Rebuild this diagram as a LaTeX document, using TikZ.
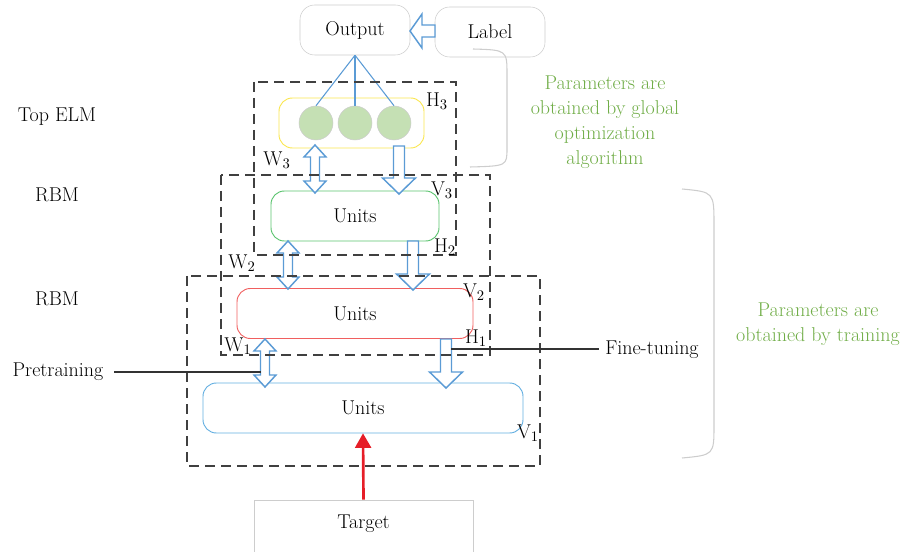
\documentclass[tikz,border=0pt]{standalone}
\usetikzlibrary{arrows, calc}
\usepackage{amsmath}
\usepackage{xcolor}

\definecolor{boxgray}{RGB}{205,205,205}
\definecolor{arrowblue}{RGB}{91,155,213}
\definecolor{elmyellow}{RGB}{250,230,80}
\definecolor{rbmgreen}{RGB}{90,195,110}
\definecolor{rbmred}{RGB}{240,95,95}
\definecolor{unitblue}{RGB}{100,175,225}
\definecolor{cellgreen}{RGB}{197,224,180}
\definecolor{notegreen}{RGB}{112,173,71}
\definecolor{targetred}{RGB}{230,30,40}

\tikzset{
	every node/.style={font=\fontsize{15}{18}\selectfont},
	rbox/.style={draw=boxgray, rounded corners=11pt, minimum width=82.5pt, minimum height=37.5pt},
	layer/.style={rounded corners=10pt, minimum height=37.5pt, line width=0.7pt},
	cell/.style={circle, fill=cellgreen, draw=boxgray, minimum size=25.5pt, inner sep=0pt},
	hollow/.style={draw=arrowblue, fill=white, line width=1.1pt, line join=miter},
	dbox/.style={draw=black!75, line width=1.5pt, dash pattern=on 7.5pt off 4.5pt},
	note/.style={text=notegreen, align=center, font=\fontsize{15}{18.75}\selectfont},
	brace/.style={draw=boxgray, line width=0.8pt},
}

% hollow arrows: x, y of top, y of tip
\newcommand{\hdown}[3]{%
	\draw[hollow] (#1-5.5,#2) -- (#1+5.5,#2) -- (#1+5.5,#3-16) -- (#1+16.5,#3-16)
		-- (#1,#3) -- (#1-16.5,#3-16) -- (#1-5.5,#3-16) -- cycle;}
\newcommand{\hboth}[3]{%
	\draw[hollow] (#1,#2) -- (#1+11,#2+12) -- (#1+4.5,#2+12) -- (#1+4.5,#3-12)
		-- (#1+11,#3-12) -- (#1,#3) -- (#1-11,#3-12) -- (#1-4.5,#3-12)
		-- (#1-4.5,#2+12) -- (#1-11,#2+12) -- cycle;}

\begin{document}
\begin{tikzpicture}[x=0.75pt, y=-0.75pt]
	\useasboundingbox (0,0) rectangle (910,552);

	\node[rbox] (out) at (355,30) {Output};
	\node[rbox] (lbl) at (490,32) {Label};
	\node[layer, draw=elmyellow, minimum width=108.75pt] (elm) at (351.5,123) {};
	\node[layer, draw=rbmgreen, minimum width=126pt] (u3) at (355,216) {Units};
	\node[layer, draw=rbmred, minimum width=177pt] (u2) at (355,313.5) {Units};
	\node[layer, draw=unitblue, minimum width=240pt] (u1) at (363,408) {Units};
	\node[draw=boxgray, minimum width=164pt, minimum height=45pt, text depth=13pt] (tgt) at (363.5,530) {Target};

	\foreach \i/\cx in {1/316, 2/355, 3/394} {
		\node[cell] (c\i) at (\cx,123) {};
		\draw[arrowblue, line width=0.8pt] (out.south) -- (c\i.north);
	}

	% label -> output
	\draw[hollow] (410,31) -- (422,14) -- (422,25) -- (435,25) -- (435,37) -- (422,37) -- (422,48) -- cycle;

	\hboth{315}{145}{193}
	\hdown{399}{146}{194}
	\hboth{288}{241}{289}
	\hdown{413}{241}{290}
	\hboth{265}{339}{387}
	\hdown{446}{339}{388}

	\draw[targetred, line width=2pt, -triangle 60] (tgt.north) -- (u1.south);

	% dashed groups
	\draw[dbox] (254,82) rectangle (456,255);
	\draw[dbox] (221,175) rectangle (490,355);
	\draw[dbox] (187,276) rectangle (540,466);

	\path (437,101) node {H$_3$};
	\path (277,160) node {W$_3$};
	\path (442,190) node {V$_3$};
	\path (445,247) node {H$_2$};
	\path (242,263) node {W$_2$};
	\path (474,292) node {V$_2$};
	\path (476,338) node {H$_1$};
	\path (238,346) node {W$_1$};
	\path (528,433) node {V$_1$};

	\node (elmtxt) at (57,117) {Top ELM};
	\node (rbm2) at (57,195) {RBM};
	\node (rbm1) at (57,299) {RBM};
	\node (pre) at (58,372) {Pretraining};
	\node (fine) at (652,350) {Fine-tuning};
	\coordinate (w1l) at (261,372);
	\coordinate (h1r) at (451,349);
	\draw[black!80, line width=0.8pt] ($(pre.east)+(6,0)$) -- (w1l);
	\draw[black!80, line width=0.8pt] (h1r) -- ($(fine.west)+(-2,-1)$);

	% braces
	\draw[brace] (473,49) .. controls (507,50) .. (507,75) -- (507,148) .. controls (507,166) .. (470,167);
	\draw[brace] (682,189) .. controls (714,192) .. (714,225) -- (714,425) .. controls (714,455) .. (682,458);

	\node[note] (gnote) at (605,122) {Parameters are\\obtained by global\\optimization\\algorithm};
	\node[note] (tnote) at (818,324) {Parameters are\\obtained by training};
\end{tikzpicture}
\end{document}
